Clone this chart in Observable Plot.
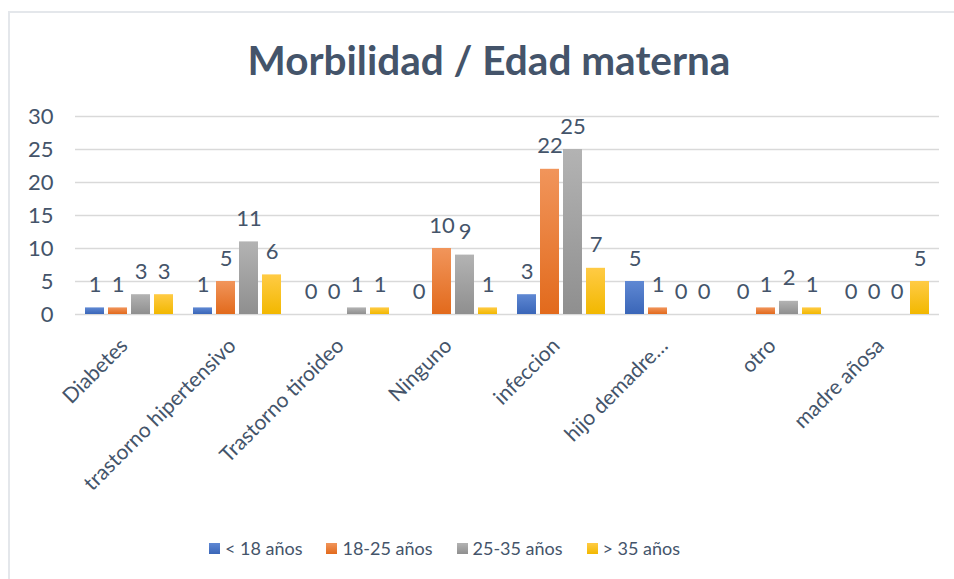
<!DOCTYPE html>
<html><head><meta charset="utf-8">
<script src="https://cdn.jsdelivr.net/npm/d3@7"></script>
<script src="https://cdn.jsdelivr.net/npm/@observablehq/plot@0.6"></script>
<style>
body{margin:0;background:#fff;font-family:Lato,"Open Sans",sans-serif;}
#frame{position:relative;width:954px;height:579px;overflow:hidden;background:#fff;}
#border{position:absolute;left:8px;top:11px;right:0;bottom:0;border-left:2px solid #E4E7EB;border-top:2px solid #E4E7EB;}
#title{position:absolute;left:0;width:978px;top:36px;text-align:center;font-weight:700;font-size:40.5px;line-height:48px;color:#44546A;}
#chart{position:absolute;left:0;top:100px;}
#legend{position:absolute;top:537px;left:0;width:889px;display:flex;justify-content:center;font-size:18px;color:#44546A;line-height:22px;}
#legend .item{display:flex;align-items:center;margin:0 12px;}
#legend .sw{width:11px;height:11px;margin-right:5px;}
</style>
</head><body>
<div id="frame">
  <div id="border"></div>
  <div id="title">Morbilidad / Edad materna</div>
  <div id="chart"></div>
  <div id="legend"></div>
</div>
<script>
const categories = ["Diabetes","trastorno hipertensivo","Trastorno tiroideo","Ninguno","infeccion","hijo demadre…","otro","madre añosa"];
const series = ["< 18 años","18-25 años","25-35 años","> 35 años"];
const lt18   = [1, 1, 0, 0, 3, 5, 0, 0];
const a18_25 = [1, 5, 0, 10, 22, 1, 1, 0];
const a25_35 = [3, 11, 1, 9, 25, 0, 2, 0];
const gt35   = [3, 6, 1, 1, 7, 0, 1, 5];
const yTicks = [0, 5, 10, 15, 20, 25, 30];
const colors = ["#4472C4","#ED7D31","#A5A5A5","#FFC000"];
const gradTop = ["#5F88D3","#F1955B","#B3B3B3","#FFCB45"];
const gradBot = ["#3A66B8","#E26A1C","#8F8F8F","#F2B800"];

const valuesBySeries = [lt18, a18_25, a25_35, gt35];
const data = [];
categories.forEach((c, i) => series.forEach((s, j) => data.push({cat: c, series: s, value: valuesBySeries[j][i]})));

const plot = Plot.plot({
  width: 954,
  height: 425,
  marginTop: 16,
  marginBottom: 211,
  marginLeft: 73,
  marginRight: 14,
  style: {fontFamily: "Lato, 'Open Sans', sans-serif", fontSize: "20px", color: "#44546A", background: "transparent", overflow: "visible"},
  fx: {domain: categories, padding: 0, axis: null},
  x: {domain: series, paddingInner: 0.156, paddingOuter: 0.365, axis: null},
  y: {domain: [0, 30]},
  color: {domain: series, range: series.map((s, j) => `url(#grad${j})`)},
  marks: [
    Plot.ruleY(yTicks, {y: d => d, stroke: "#D9D9D9", strokeWidth: 1.5}),
    Plot.barY(data, {fx: "cat", x: "series", y: "value", fill: "series"}),
    Plot.text(data, {fx: "cat", x: "series", y: "value", text: d => String(d.value), lineAnchor: "bottom", dy: -16, fontSize: 22, fill: "#44546A"}),
    Plot.axisY({ticks: yTicks, tickSize: 0, tickPadding: 22, label: null, fontSize: 22}),
    Plot.text(categories, {fx: d => d, text: d => d, frameAnchor: "bottom", rotate: -45, textAnchor: "end", lineAnchor: "top", dx: -11, dy: 22, fontSize: 21, fill: "#44546A"})
  ]
});

const svg = d3.select(plot.tagName.toLowerCase() === "svg" ? plot : plot.querySelector("svg"));
const defs = svg.insert("defs", ":first-child");
colors.forEach((c, j) => {
  const g = defs.append("linearGradient").attr("id", `grad${j}`).attr("x1", 0).attr("y1", 0).attr("x2", 0).attr("y2", 1);
  g.append("stop").attr("offset", "0%").attr("stop-color", gradTop[j]);
  g.append("stop").attr("offset", "100%").attr("stop-color", gradBot[j]);
});
document.getElementById("chart").appendChild(plot);

const legend = document.getElementById("legend");
series.forEach((s, j) => {
  const item = document.createElement("div");
  item.className = "item";
  const sw = document.createElement("div");
  sw.className = "sw";
  sw.style.background = `linear-gradient(${gradTop[j]}, ${gradBot[j]})`;
  const t = document.createElement("span");
  t.textContent = s;
  item.appendChild(sw); item.appendChild(t);
  legend.appendChild(item);
});
</script>
</body></html>
